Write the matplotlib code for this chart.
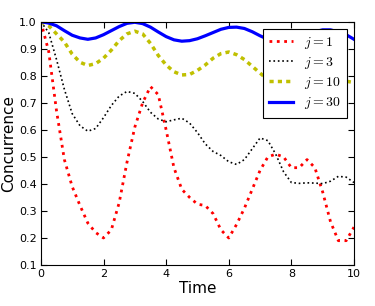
import numpy as np
import matplotlib
matplotlib.use("Agg")
from matplotlib import pyplot as plt

plt.rcParams['mathtext.fontset'] = 'cm'

# sample times, read every 0.25 off the picture
time = np.arange(41) * 0.25

conc_j1 = [1.0, 0.89, 0.67, 0.49, 0.39, 0.32, 0.255, 0.22, 0.20, 0.23,
           0.33, 0.48, 0.61, 0.70, 0.76, 0.73, 0.60, 0.46, 0.38, 0.35,
           0.325, 0.32, 0.29, 0.23, 0.20, 0.25, 0.31, 0.38, 0.45, 0.50,
           0.51, 0.50, 0.46, 0.46, 0.49, 0.46, 0.37, 0.26, 0.19, 0.19, 0.24]
conc_j3 = [1.0, 0.96, 0.86, 0.75, 0.66, 0.615, 0.595, 0.605, 0.645, 0.69,
           0.725, 0.742, 0.735, 0.705, 0.665, 0.64, 0.63, 0.637, 0.643, 0.625,
           0.59, 0.548, 0.52, 0.505, 0.482, 0.472, 0.49, 0.53, 0.57, 0.56,
           0.51, 0.445, 0.405, 0.402, 0.404, 0.403, 0.401, 0.41, 0.428, 0.425, 0.405]
conc_j10 = [1.0, 0.985, 0.955, 0.925, 0.88, 0.85, 0.838, 0.845, 0.865, 0.895,
            0.93, 0.955, 0.965, 0.955, 0.92, 0.875, 0.84, 0.815, 0.803, 0.805,
            0.82, 0.84, 0.865, 0.882, 0.888, 0.878, 0.86, 0.835, 0.81, 0.785,
            0.77, 0.765, 0.77, 0.78, 0.79, 0.795, 0.795, 0.79, 0.785, 0.78, 0.775]
conc_j30 = [1.0, 0.995, 0.985, 0.967, 0.95, 0.94, 0.935, 0.94, 0.952, 0.967,
            0.982, 0.994, 0.998, 0.993, 0.98, 0.962, 0.945, 0.933, 0.928, 0.93,
            0.937, 0.948, 0.96, 0.972, 0.979, 0.98, 0.975, 0.963, 0.948, 0.935,
            0.927, 0.925, 0.93, 0.94, 0.952, 0.963, 0.97, 0.97, 0.962, 0.952, 0.935]

labels = ['$j=1$', '$j=3$', '$j=10$', '$j=30$']

fig = plt.figure(figsize=(3.75, 3.06), dpi=100)
ax = fig.add_axes([0.109, 0.134, 0.835, 0.795])

ax.plot(time, conc_j1, color='red', linestyle=':', linewidth=2, label=labels[0])
ax.plot(time, conc_j3, color='black', linestyle=':', linewidth=1.2, label=labels[1])
ax.plot(time, conc_j10, color='#c0c000', linestyle='--', dashes=(1.2, 1.2), linewidth=2.5, label=labels[2])
ax.plot(time, conc_j30, color='blue', linestyle='-', linewidth=2.3, label=labels[3])

ax.set_xlim(0, 10)
ax.set_ylim(0.1, 1.0)
ax.set_xticks([0, 2, 4, 6, 8, 10])
ax.set_yticks(np.arange(1, 11) / 10)
ax.tick_params(direction='in', top=True, right=True, labelsize=8, length=4, pad=3)
ax.set_xlabel('Time', fontsize=11, labelpad=1)
ax.set_ylabel('Concurrence', fontsize=11, labelpad=2)

leg = ax.legend(loc='upper right', fontsize=10, fancybox=False, framealpha=1,
                edgecolor='black', borderaxespad=0.5, handlelength=1.7,
                labelspacing=0.3, handletextpad=0.8, borderpad=0.45)
leg.get_frame().set_linewidth(0.8)

fig.savefig('out.png', dpi=100)
